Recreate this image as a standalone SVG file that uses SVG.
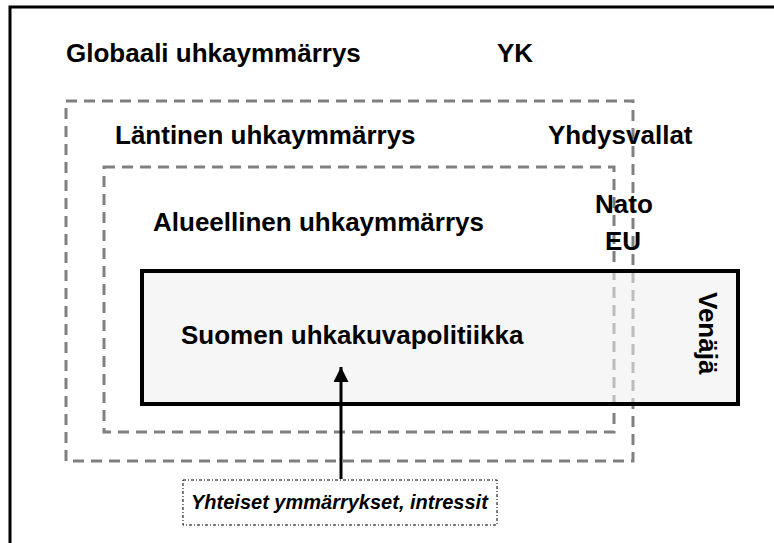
<svg xmlns="http://www.w3.org/2000/svg" width="774" height="543" viewBox="0 0 774 543">
  <defs>
    <marker id="arrowHead" viewBox="0 0 10 10" refX="10" refY="5" markerWidth="5" markerHeight="5" orient="auto-start-reverse" markerUnits="strokeWidth">
      <path d="M0,0 L10,5 L0,10 z" fill="#000"/>
    </marker>
  </defs>
  <style>
    .lbl { font-family: "Liberation Sans", Arial, sans-serif; font-weight: bold; font-size: 26px; fill: #000; }
    .note { font-family: "Liberation Sans", Arial, sans-serif; font-weight: bold; font-style: italic; font-size: 20px; fill: #000; }
    .zone { fill: none; stroke: #808080; stroke-width: 3; stroke-dasharray: 11 7; }
  </style>

  <rect width="774" height="543" fill="#fff"/>

  <!-- outer frame (runs past the right and bottom edges) -->
  <rect id="frame" x="10" y="7" width="800" height="600" fill="none" stroke="#000" stroke-width="3"/>

  <!-- nested threat-perception zones -->
  <g id="global">
    <text class="lbl" x="66" y="62">Globaali uhkaymmärrys</text>
    <text class="lbl" x="497" y="62">YK</text>
  </g>

  <g id="western">
    <rect class="zone" x="66" y="101" width="567" height="360"/>
    <text class="lbl" x="115" y="144">Läntinen uhkaymmärrys</text>
    <text class="lbl" x="548" y="144">Yhdysvallat</text>
  </g>

  <g id="regional">
    <rect class="zone" x="104" y="167" width="510" height="265"/>
    <text class="lbl" x="153" y="231">Alueellinen uhkaymmärrys</text>
    <text class="lbl" x="595" y="213">Nato</text>
    <text class="lbl" x="605" y="250">EU</text>
  </g>

  <!-- Finnish policy box, drawn semi-opaque over the zone edges -->
  <g id="finland">
    <rect x="142" y="271" width="596" height="133" fill="#efefef" fill-opacity="0.55" stroke="#000" stroke-width="4"/>
    <text class="lbl" x="181" y="344">Suomen uhkakuvapolitiikka</text>
    <text class="lbl" transform="translate(699 292) rotate(90)">Venäjä</text>
  </g>

  <g id="shared">
    <rect x="183" y="480" width="314" height="45" fill="#fff" stroke="#000" stroke-width="1" stroke-dasharray="3 2 1 2"/>
    <text class="note" x="191" y="509">Yhteiset ymmärrykset, intressit</text>
  </g>

  <g id="connectors">
    <line x1="341" y1="479" x2="341" y2="367" stroke="#000" stroke-width="3" marker-end="url(#arrowHead)"/>
  </g>
</svg>
